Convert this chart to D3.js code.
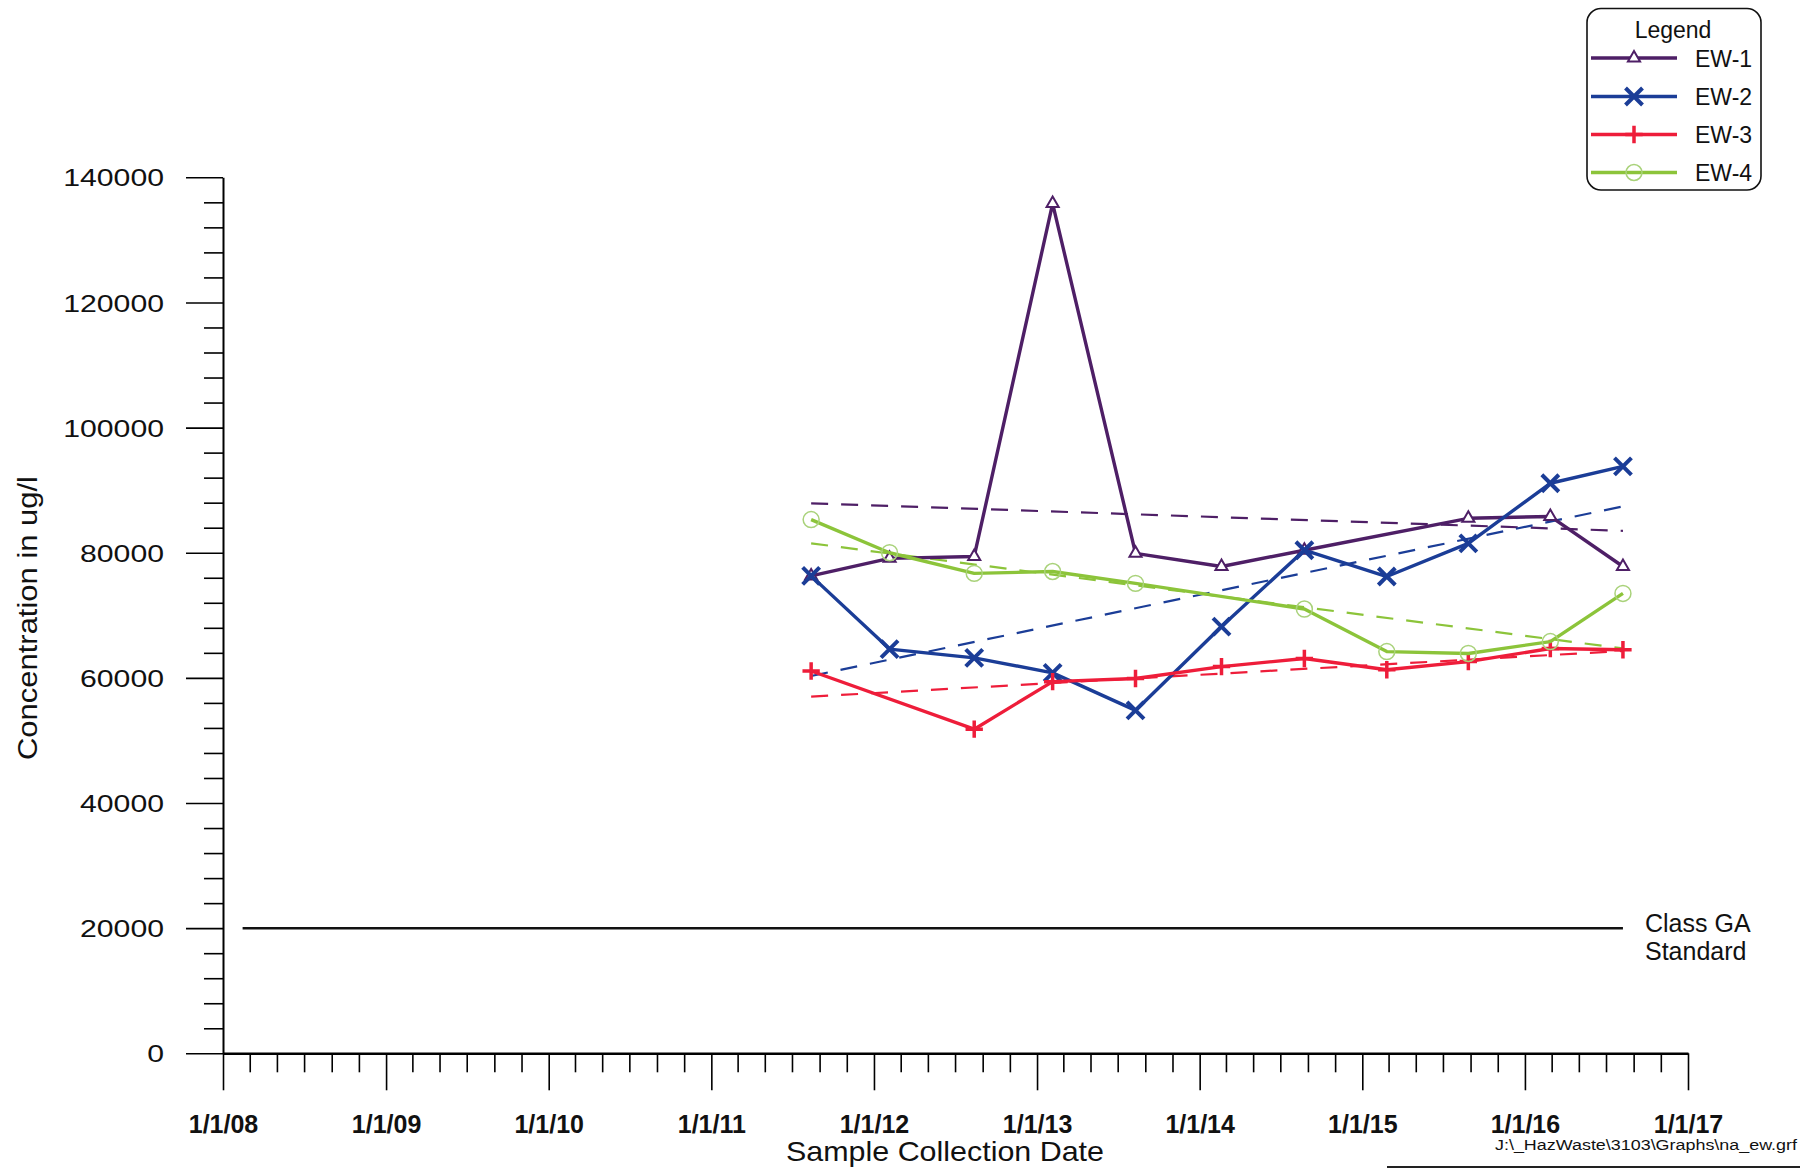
<!DOCTYPE html>
<html>
<head>
<meta charset="utf-8">
<script src="https://cdn.jsdelivr.net/npm/d3@7"></script>
<style>
  html, body { margin: 0; padding: 0; background: #fff; }
  svg { display: block; font-family: "Liberation Sans", Arial, sans-serif; }
</style>
</head>
<body>
<svg id="chart" width="1800" height="1169"></svg>
<script>
// sample dates
const sampleDates = [
  "2011-08-13", "2012-02-05", "2012-08-13", "2013-02-05", "2013-08-10", "2014-02-19",
  "2014-08-24", "2015-02-25", "2015-08-27", "2016-02-27", "2016-08-08"
];
const seriesNames = ["EW-1", "EW-2", "EW-3", "EW-4"];
// null = no marker visible on that date
const ew1Values = [76300, 79100, 79400, 135800, 79900, 77800, 80400, null, 85500, 85800, 77800];
const ew2Values = [76300, 64600, 63200, 60800, 54800, 68200, 80400, 76200, 81500, 91100, 93800];
const ew3Values = [61100, null, 51800, 59400, 59900, 61800, 63100, 61300, 62600, 64700, 64500];
const ew4Values = [85300, 80000, 76700, 77000, 75100, null, 71000, 64200, 63900, 65800, 73500];

// dashed trend lines, value at first and last sample date
const trendStartValues = [87900, 60300, 57000, 81500];
const trendEndValues = [83500, 87400, 64300, 64700];

const standardDates = ["2008-02-14", "2016-08-08"];
const standardValue = 20000;

const yMajorTicks = [0, 20000, 40000, 60000, 80000, 100000, 120000, 140000];
const xTickYears = [2008, 2009, 2010, 2011, 2012, 2013, 2014, 2015, 2016, 2017];

const colors = ["#4e1f66", "#1b3d97", "#ee1d3a", "#8cc43a"];
const markerColors = ["#4e1f66", "#1b3d97", "#ee1d3a", "#a9d27a"];
const symbols = [d3.symbolTriangle2, d3.symbolTimes, d3.symbolPlus, d3.symbolCircle];
const symbolSizes = [105, 190, 100, 200];
const symbolWidths = [2, 4, 3.5, 1.5];

const width = 1800;
const height = 1169;
const margins = { left: 223, right: 112, top: 177.3, bottom: 115.7 };

const parse = d3.timeParse("%Y-%m-%d");
const dates = sampleDates.map(parse);
const allValues = [ew1Values, ew2Values, ew3Values, ew4Values];

const svg = d3.select("#chart");

const x = d3.scaleTime()
  .domain([new Date(xTickYears[0], 0, 1), new Date(xTickYears[xTickYears.length - 1], 0, 1)])
  .range([margins.left, width - margins.right]);

const y = d3.scaleLinear()
  .domain([0, yMajorTicks[yMajorTicks.length - 1]])
  .range([height - margins.bottom, margins.top]);

// x axis, ticks every two months, long ones on Jan 1
const fmt = d3.timeFormat("%-m/%-d/%y");
const xAxisNode = svg.append("g")
  .attr("transform", `translate(0, ${y(0)})`)
  .call(d3.axisBottom(x)
    .ticks(d3.timeMonth.every(2))
    .tickSizeOuter(0)
    .tickFormat((d) => d.getMonth() === 0 ? fmt(d) : ""));
xAxisNode.select(".domain").attr("stroke-width", 2.5);
xAxisNode.selectAll(".tick line")
  .attr("stroke-width", 1.6)
  .attr("y2", (d) => d.getMonth() === 0 ? 37 : 19);
xAxisNode.selectAll(".tick text")
  .attr("y", 80)
  .attr("dy", 0)
  .attr("font-size", 25)
  .attr("font-weight", "bold")
  .attr("font-family", "Liberation Sans, Arial, sans-serif")
  .attr("fill", "#111");

// y axis, minor ticks every 4000
const yAxisNode = svg.append("g")
  .attr("transform", `translate(${margins.left}, 0)`)
  .call(d3.axisLeft(y)
    .tickValues(d3.range(0, 140001, 4000))
    .tickSizeOuter(0)
    .tickFormat((d) => d % 20000 === 0 ? String(d) : ""));
yAxisNode.select(".domain").attr("stroke-width", 2);
yAxisNode.selectAll(".tick line")
  .attr("stroke-width", 1.6)
  .attr("x2", (d) => d % 20000 === 0 ? -37 : -19);
yAxisNode.selectAll(".tick text")
  .attr("x", -59)
  .attr("dy", "0.36em")
  .attr("font-size", 24)
  .attr("font-family", "Liberation Sans, Arial, sans-serif")
  .attr("fill", "#111")
  .attr("lengthAdjust", "spacingAndGlyphs")
  .attr("textLength", function (d) { return d % 20000 === 0 ? String(d).length * 16.8 : null; });

// axis titles
svg.append("text")
  .attr("x", 945)
  .attr("y", 1161)
  .attr("text-anchor", "middle")
  .attr("font-size", 28)
  .attr("textLength", 318)
  .attr("lengthAdjust", "spacingAndGlyphs")
  .attr("fill", "#111")
  .text("Sample Collection Date");

svg.append("text")
  .attr("transform", "translate(37, 618) rotate(-90)")
  .attr("text-anchor", "middle")
  .attr("font-size", 27)
  .attr("textLength", 284)
  .attr("lengthAdjust", "spacingAndGlyphs")
  .attr("fill", "#111")
  .text("Concentration in ug/l");

svg.append("text")
  .attr("x", 1797)
  .attr("y", 1150)
  .attr("text-anchor", "end")
  .attr("font-size", 14)
  .attr("textLength", 302)
  .attr("lengthAdjust", "spacingAndGlyphs")
  .attr("fill", "#111")
  .text("J:\\_HazWaste\\3103\\Graphs\\na_ew.grf");

svg.append("line")
  .attr("x1", 1387).attr("x2", 1800)
  .attr("y1", 1167).attr("y2", 1167)
  .attr("stroke", "#222")
  .attr("stroke-width", 2);

// class GA standard
svg.append("line")
  .attr("x1", x(parse(standardDates[0])))
  .attr("x2", x(parse(standardDates[1])))
  .attr("y1", y(standardValue))
  .attr("y2", y(standardValue))
  .attr("stroke", "#111")
  .attr("stroke-width", 2.5);

svg.append("text")
  .attr("x", 1645).attr("y", 932)
  .attr("font-size", 25).attr("fill", "#111")
  .text("Class GA");
svg.append("text")
  .attr("x", 1645).attr("y", 960)
  .attr("font-size", 25).attr("fill", "#111")
  .text("Standard");

// trend lines
const plot = svg.append("g");
seriesNames.forEach((name, i) => {
  plot.append("line")
    .attr("x1", x(dates[0]))
    .attr("x2", x(dates[dates.length - 1]))
    .attr("y1", y(trendStartValues[i]))
    .attr("y2", y(trendEndValues[i]))
    .attr("stroke", colors[i])
    .attr("stroke-width", 2.2)
    .attr("stroke-dasharray", "17,13");
});

// series lines and markers
const line = d3.line()
  .x((d) => x(d.date))
  .y((d) => y(d.value));

seriesNames.forEach((name, i) => {
  const data = dates
    .map((d, k) => ({ date: d, value: allValues[i][k] }))
    .filter((d) => d.value !== null);

  plot.append("path")
    .datum(data)
    .attr("fill", "none")
    .attr("stroke", colors[i])
    .attr("stroke-width", 3.4)
    .attr("stroke-linejoin", "round")
    .attr("d", line);

  plot.append("g")
    .selectAll("path")
    .data(data)
    .join("path")
    .attr("transform", (d) => `translate(${x(d.date)}, ${y(d.value)})`)
    .attr("d", d3.symbol(symbols[i], symbolSizes[i]))
    .attr("fill", i === 0 ? "#fff" : "none")
    .attr("stroke", markerColors[i])
    .attr("stroke-width", symbolWidths[i]);
});

// legend
const legend = svg.append("g");
legend.append("rect")
  .attr("x", 1587).attr("y", 8.5)
  .attr("width", 174).attr("height", 181.5)
  .attr("rx", 14)
  .attr("fill", "#fff")
  .attr("stroke", "#111")
  .attr("stroke-width", 1.6);
legend.append("text")
  .attr("x", 1673).attr("y", 38)
  .attr("text-anchor", "middle")
  .attr("font-size", 23).attr("fill", "#111")
  .text("Legend");

const legendRows = [58, 96.5, 134.5, 172.5];
seriesNames.forEach((name, i) => {
  const row = legend.append("g").attr("transform", `translate(0, ${legendRows[i]})`);
  row.append("line")
    .attr("x1", 1591).attr("x2", 1677)
    .attr("stroke", colors[i])
    .attr("stroke-width", 3.4);
  row.append("path")
    .attr("transform", "translate(1634, 0)")
    .attr("d", d3.symbol(symbols[i], symbolSizes[i]))
    .attr("fill", i === 0 ? "#fff" : "none")
    .attr("stroke", markerColors[i])
    .attr("stroke-width", symbolWidths[i]);
  row.append("text")
    .attr("x", 1695).attr("y", 8.5)
    .attr("font-size", 23).attr("fill", "#111")
    .text(name);
});
</script>
</body>
</html>
